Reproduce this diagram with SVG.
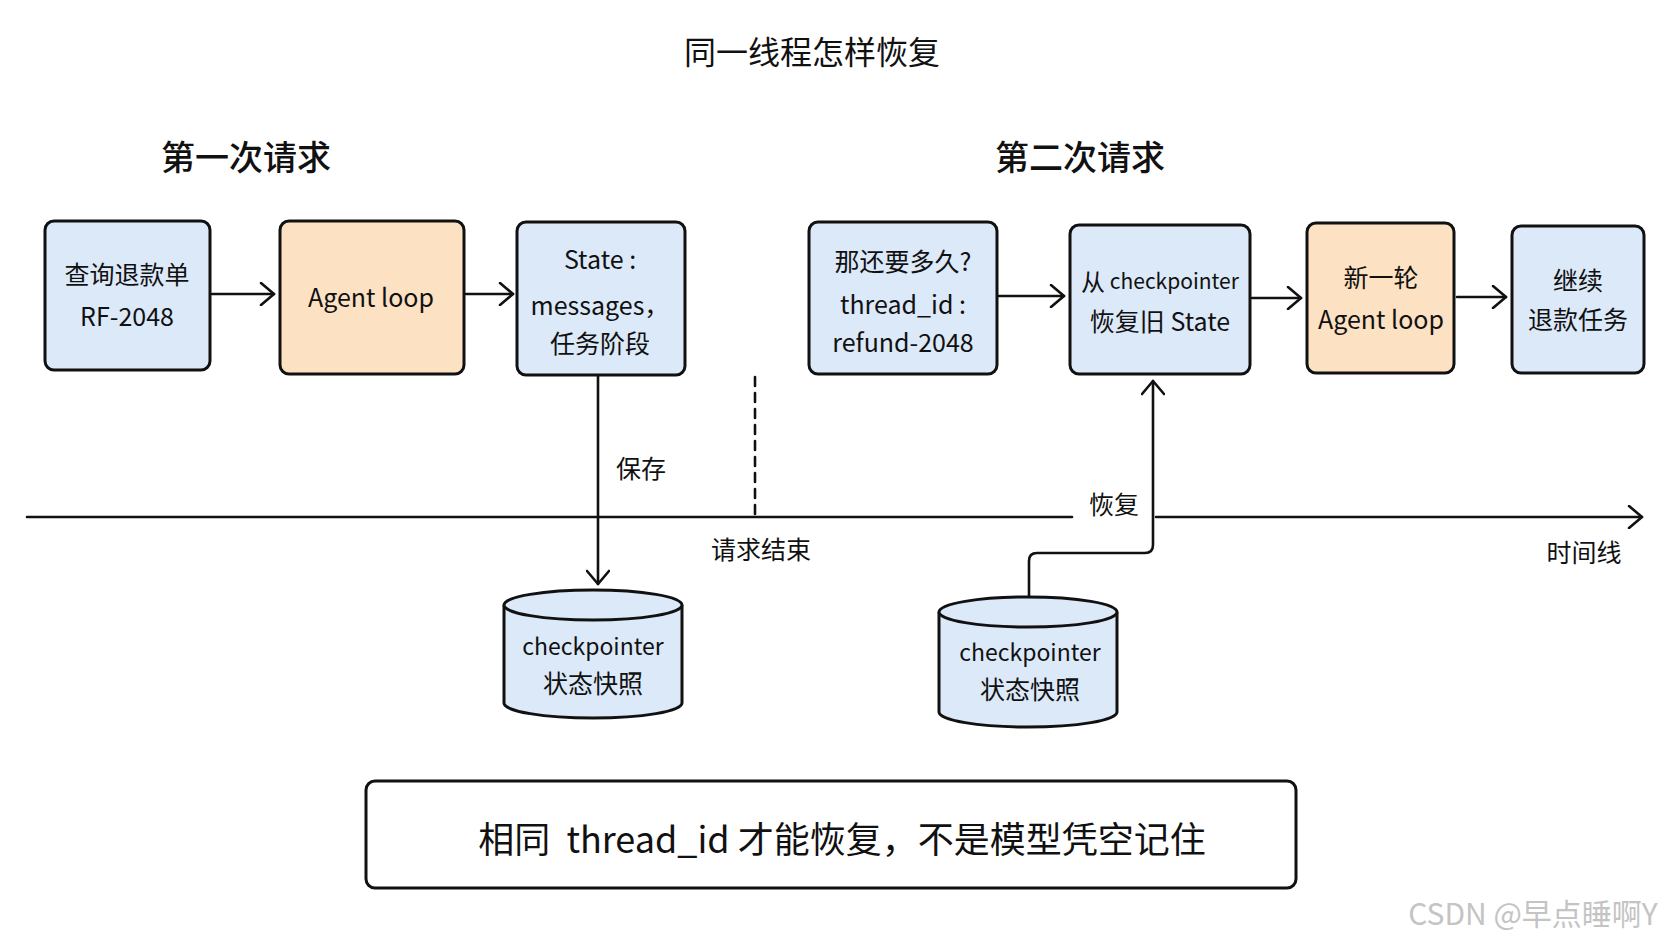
<svg xmlns="http://www.w3.org/2000/svg" width="1672" height="941" viewBox="0 0 1672 941">
<defs>
<style>
text{font-family:"Noto Sans CJK SC","Liberation Sans",sans-serif;fill:#111;text-anchor:middle;dominant-baseline:central}
.t{font-size:25px}
.c{font-size:25px}
.h{font-size:34px;font-weight:500}
.title{font-size:32px}
.lbl{font-size:25px}
.blue{fill:#dce9f9;stroke:#111;stroke-width:3}
.orange{fill:#fce2c3;stroke:#111;stroke-width:3}
.ln{fill:none;stroke:#111;stroke-width:2.6;stroke-linecap:round;stroke-linejoin:round}
</style>
<marker id="ah" markerUnits="userSpaceOnUse" markerWidth="18" markerHeight="24" refX="15" refY="12" orient="auto">
<path d="M2,1 L15,12 L2,23" fill="none" stroke="#111" stroke-width="2.6" stroke-linecap="round" stroke-linejoin="round"/>
</marker>
</defs>
<rect width="1672" height="941" fill="#fff"/>
<text class="title" x="812" y="50">同一线程怎样恢复</text>
<text class="h" x="246" y="155">第一次请求</text>
<text class="h" x="1080" y="155">第二次请求</text>

<g id="connectors">
<path class="ln" d="M212,294 H274" marker-end="url(#ah)"/>
<path class="ln" d="M466,294 H513" marker-end="url(#ah)"/>
<path class="ln" d="M999,296 H1064" marker-end="url(#ah)"/>
<path class="ln" d="M1252,298 H1301" marker-end="url(#ah)"/>
<path class="ln" d="M1457,297 H1506" marker-end="url(#ah)"/>
<path class="ln" d="M27,517 H1072"/>
<path class="ln" d="M1156,517 H1642" marker-end="url(#ah)"/>
<path class="ln" d="M755,377 V515" stroke-dasharray="9 7" stroke-linecap="butt"/>
<path class="ln" d="M598,375 V584" marker-end="url(#ah)"/>
<path class="ln" d="M1029,597 V561 Q1029,553 1037,553 H1145 Q1153,553 1153,545 V381" marker-end="url(#ah)"/>
<text class="lbl" x="641" y="467">保存</text>
<text class="lbl" x="761" y="548">请求结束</text>
<text class="lbl" x="1114" y="503">恢复</text>
<text class="lbl" x="1584" y="551">时间线</text>
</g>

<g id="n1">
<rect class="blue" x="45" y="221" width="165" height="149" rx="9"/>
<text class="c" x="127" y="273" font-size="26">查询退款单</text>
<text class="t" x="127" y="315">RF-2048</text>
</g>
<g id="n2">
<rect class="orange" x="280" y="221" width="184" height="153" rx="9"/>
<text class="t" x="371" y="296">Agent loop</text>
</g>
<g id="n3">
<rect class="blue" x="517" y="222" width="168" height="153" rx="9"/>
<text class="t" x="600" y="258">State :</text>
<text class="t" x="600" y="304">messages，</text>
<text class="c" x="600" y="342">任务阶段</text>
</g>
<g id="n4">
<rect class="blue" x="809" y="222" width="188" height="152" rx="9"/>
<text class="t" x="903" y="260">那还要多久?</text>
<text class="t" x="903" y="303">thread_id :</text>
<text class="t" x="903" y="341">refund-2048</text>
</g>
<g id="n5">
<rect class="blue" x="1070" y="225" width="180" height="149" rx="9"/>
<text x="1160" y="280" font-size="21"><tspan font-size="24">从</tspan> checkpointer</text>
<text class="t" x="1160" y="320">恢复旧 State</text>
</g>
<g id="n6">
<rect class="orange" x="1307" y="223" width="147" height="150" rx="9"/>
<text class="c" x="1381" y="276">新一轮</text>
<text class="t" x="1381" y="318">Agent loop</text>
</g>
<g id="n7">
<rect class="blue" x="1512" y="226" width="132" height="147" rx="9"/>
<text class="c" x="1578" y="279">继续</text>
<text class="c" x="1578" y="318">退款任务</text>
</g>

<g id="db1">
<path class="blue" d="M504,605 V703 A89,15 0 0 0 682,703 V605"/>
<ellipse class="blue" cx="593" cy="605" rx="89" ry="15"/>
<text x="593" y="645" font-size="23">checkpointer</text>
<text class="c" x="593" y="682">状态快照</text>
</g>
<g id="db2">
<path class="blue" d="M939,612 V712 A89,15 0 0 0 1117,712 V612"/>
<ellipse class="blue" cx="1028" cy="612" rx="89" ry="15"/>
<text x="1030" y="651" font-size="23">checkpointer</text>
<text class="c" x="1030" y="688">状态快照</text>
</g>

<g id="note">
<rect x="366" y="781" width="930" height="107" rx="9" fill="#fff" stroke="#111" stroke-width="3"/>
<text x="842" y="837" font-size="36" xml:space="preserve">相同  thread_id 才能恢复，不是模型凭空记住</text>
</g>
<text x="1533" y="912" font-size="30" style="fill:#c4c4c4">CSDN @早点睡啊Y</text>
</svg>
